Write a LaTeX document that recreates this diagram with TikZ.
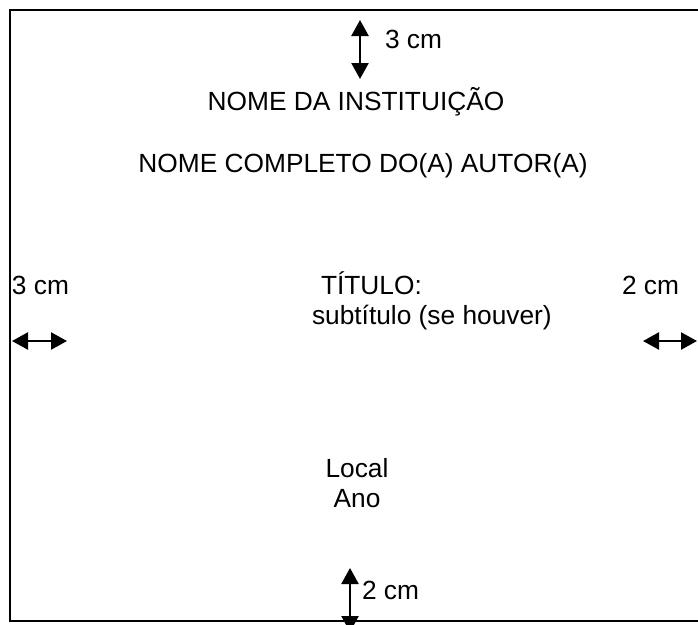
\documentclass[tikz,border=0pt]{standalone}
\usepackage{fontspec}
\setmainfont{Liberation Sans}
\usetikzlibrary{arrows.meta}
\begin{document}
\begin{tikzpicture}[x=1pt,y=-1pt,
  lbl/.style={inner sep=0pt,outer sep=0pt,anchor=base west,font=\fontsize{26.3}{30}\selectfont},
  clbl/.style={lbl,anchor=base},
  dimarrow/.style={line width=2.4pt,{Triangle[length=16pt,width=17pt]}-{Triangle[length=16pt,width=17pt]}},
  frameline/.style={line width=2pt}]
\useasboundingbox (0,0) rectangle (698,624);
% frame (open on the right)
\coordinate (tr) at (698,10);
\coordinate (tl) at (10,10);
\coordinate (bl) at (10,621);
\coordinate (br) at (698,621);
\draw[frameline] (tr) -- (tl) -- (bl) -- (br);
% texts
\node[lbl] (top3) at (385,48) {3 cm};
\node[clbl] (inst) at (356,110) {NOME DA INSTITUIÇÃO};
\node[clbl] (autor) at (363,172) {NOME COMPLETO DO(A) AUTOR(A)};
\node[lbl] (left3) at (12,294) {3 cm};
\node[lbl] (right2) at (622,294) {2 cm};
\node[lbl] (titulo) at (321,294) {TÍTULO:};
\node[lbl] (subt) at (312,324) {subtítulo (se houver)};
\node[clbl] (local) at (357,477) {Local};
\node[clbl] (ano) at (357,507) {Ano};
\node[lbl] (bot2) at (362,599) {2 cm};
% dimension arrows
\coordinate (ta) at (360,20);
\coordinate (tb) at (360,79);
\coordinate (la) at (12,341);
\coordinate (lb) at (67,341);
\coordinate (ra) at (643,341);
\coordinate (rb) at (697,341);
\coordinate (ba) at (350,568);
\coordinate (bb) at (350,632);
\draw[dimarrow] (ta) -- (tb);
\draw[dimarrow] (la) -- (lb);
\draw[dimarrow] (ra) -- (rb);
\draw[dimarrow] (ba) -- (bb);
\end{tikzpicture}
\end{document}
